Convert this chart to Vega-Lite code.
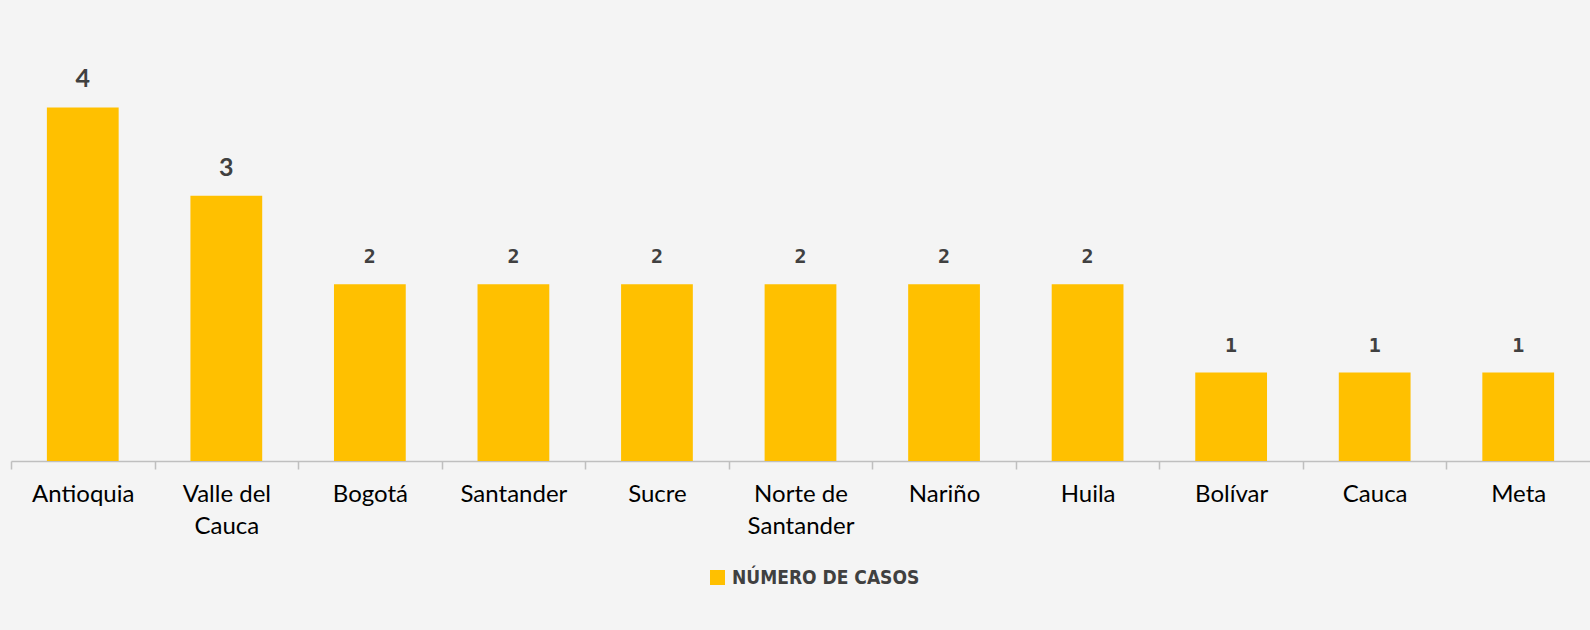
{
  "$schema": "https://vega.github.io/schema/vega-lite/v6.json",
  "autosize": {"type": "none"},
  "width": 1579,
  "height": 442,
  "padding": {"left": 11, "top": 19, "right": 0, "bottom": 169},
  "background": "#f4f4f4",
  "config": {"view": {"stroke": null}},
  "data": {
    "values": [
      {"departamento": "Antioquia", "casos": 4, "serie": "NÚMERO DE CASOS"},
      {"departamento": "Valle del Cauca", "casos": 3, "serie": "NÚMERO DE CASOS"},
      {"departamento": "Bogotá", "casos": 2, "serie": "NÚMERO DE CASOS"},
      {"departamento": "Santander", "casos": 2, "serie": "NÚMERO DE CASOS"},
      {"departamento": "Sucre", "casos": 2, "serie": "NÚMERO DE CASOS"},
      {"departamento": "Norte de Santander", "casos": 2, "serie": "NÚMERO DE CASOS"},
      {"departamento": "Nariño", "casos": 2, "serie": "NÚMERO DE CASOS"},
      {"departamento": "Huila", "casos": 2, "serie": "NÚMERO DE CASOS"},
      {"departamento": "Bolívar", "casos": 1, "serie": "NÚMERO DE CASOS"},
      {"departamento": "Cauca", "casos": 1, "serie": "NÚMERO DE CASOS"},
      {"departamento": "Meta", "casos": 1, "serie": "NÚMERO DE CASOS"}
    ]
  },
  "encoding": {
    "x": {
      "field": "departamento",
      "type": "nominal",
      "sort": null,
      "scale": {"paddingInner": 0.5, "paddingOuter": 0.25},
      "axis": {
        "title": null,
        "labelAngle": 0,
        "labelFont": "Lato",
        "labelFontSize": 24,
        "labelColor": "#000000",
        "labelPadding": 13,
        "labelLineHeight": 32,
        "labelBaseline": "top",
        "labelOffset": 71.77,
        "labelExpr": "datum.label == 'Valle del Cauca' ? ['Valle del', 'Cauca'] : datum.label == 'Norte de Santander' ? ['Norte de', 'Santander'] : datum.label",
        "domainColor": "#bfbfbf",
        "domainWidth": 1.5,
        "tickColor": "#bfbfbf",
        "tickOffset": -71.77,
        "tickSize": 8,
        "tickWidth": 1.5
      }
    },
    "y": {
      "field": "casos",
      "type": "quantitative",
      "scale": {"domain": [0, 5]},
      "axis": null
    }
  },
  "layer": [
    {
      "mark": {"type": "bar", "color": "#FFC000"},
      "encoding": {
        "color": {
          "field": "serie",
          "type": "nominal",
          "scale": {"range": ["#FFC000"]},
          "legend": {
            "title": null,
            "orient": "none",
            "legendX": 697,
            "legendY": 549,
            "symbolType": "square",
            "symbolSize": 225,
            "symbolStrokeWidth": 0,
            "labelFont": "DejaVu Sans Condensed",
            "labelFontSize": 19,
            "labelFontWeight": "bold",
            "labelLimit": 0,
            "labelColor": "#404040",
            "labelOffset": 5
          }
        }
      }
    },
    {
      "transform": [{"filter": "datum.casos >= 3"}],
      "mark": {"type": "text", "baseline": "bottom", "dy": -15, "font": "Lato", "fontWeight": "bold", "fontSize": 25, "color": "#404040"},
      "encoding": {"text": {"field": "casos", "type": "quantitative"}}
    },
    {
      "transform": [{"filter": "datum.casos < 3"}],
      "mark": {"type": "text", "baseline": "bottom", "dy": -17, "font": "DejaVu Sans Mono", "fontWeight": "bold", "fontSize": 20, "color": "#404040"},
      "encoding": {"text": {"field": "casos", "type": "quantitative"}}
    }
  ]
}
